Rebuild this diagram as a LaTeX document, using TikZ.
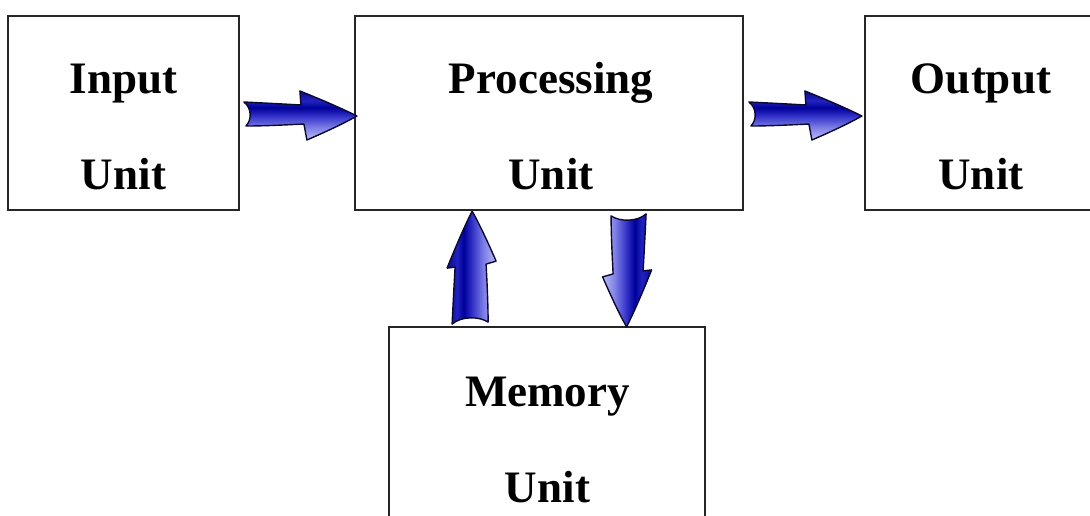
\documentclass[tikz,border=0pt]{standalone}
\usepackage{fontspec}
\setmainfont{Liberation Serif}
\usetikzlibrary{calc}

% glossy blue body of the block arrows (0bp = bottom, 100bp = top)
\definecolor{arrlight}{HTML}{BCBCF6}
\definecolor{arrsoft}{HTML}{7C7CE6}
\definecolor{arrmid}{HTML}{2E2EC6}
\definecolor{arrband}{HTML}{00009A}
\definecolor{arrupper}{HTML}{2222BE}
\definecolor{arrtop}{HTML}{0A0A92}
\definecolor{arredge}{HTML}{0A0A30}
\pgfdeclareverticalshading{arrowgloss}{100bp}{%
  color(0bp)=(arrlight); color(25bp)=(arrlight); color(38bp)=(arrsoft);
  color(50bp)=(arrmid); color(58bp)=(arrband); color(65bp)=(arrupper);
  color(75bp)=(arrtop); color(100bp)=(arrtop)}

\tikzset{
  unitbox/.style={draw=black!85, line width=1.8pt, fill=white, inner sep=0pt},
  unitlabel/.style={font=\bfseries\fontsize{45}{54}\selectfont, anchor=base, inner sep=0pt},
  arrowbody/.style={shading=arrowgloss, draw=arredge, line width=1.4pt, line join=round},
  % fat block arrow from the local origin (tail) to (113,2) (tip); #1 = half shaft width
  fatarrow/.pic={
    \shadedraw[arrowbody]
      (0,-#1) .. controls (20,{-#1+1}) and (40,{-#1+2}) .. (57,{-#1+3})
      -- (56,-23) .. controls (76,-15) and (97,-6) .. (113,2)
      .. controls (97,11) and (79,19) .. (63,26)
      -- (60,{#1-2}) .. controls (40,{#1-1}) and (20,#1) .. (2,#1)
      .. controls (8,{#1/2}) and (8,{-#1/2}) .. (0,-#1) -- cycle;
  }
}

\begin{document}
\begin{tikzpicture}[x=1pt, y=-1pt]
\useasboundingbox (0,0) rectangle (1090,515);

% the four units
\node[unitbox, minimum width=231pt, minimum height=194pt] (in)   at (123.5,113) {};
\node[unitbox, minimum width=388pt, minimum height=194pt] (proc) at (549,113) {};
\node[unitbox, minimum width=232pt, minimum height=194pt] (out)  at (981,113) {};
\node[unitbox, minimum width=316pt, minimum height=274pt] (mem)  at (547,464) {};

\node[unitlabel] (in-a)   at (123.5,93)  {Input};
\node[unitlabel] (in-b)   at (123.5,189) {Unit};
\node[unitlabel] (proc-a) at (551,93)    {Processing};
\node[unitlabel] (proc-b) at (551,189)   {Unit};
\node[unitlabel] (out-a)  at (981,93)    {Output};
\node[unitlabel] (out-b)  at (981,189)   {Unit};
\node[unitlabel] (mem-a)  at (547.5,406) {Memory};
\node[unitlabel] (mem-b)  at (547.5,502) {Unit};

% data flow between the units
\pic at ($(in.east)+(4,1)$) {fatarrow=12};
\pic at ($(proc.east)+(5,1)$) {fatarrow=12};
\pic[rotate=90, shading angle=90] at ($(mem.north west)+(82,-2)$) {fatarrow=18};
\pic[rotate=-90, shading angle=-90] at ($(proc.south west)+(274.5,3)$) {fatarrow=17.5};
\end{tikzpicture}
\end{document}
